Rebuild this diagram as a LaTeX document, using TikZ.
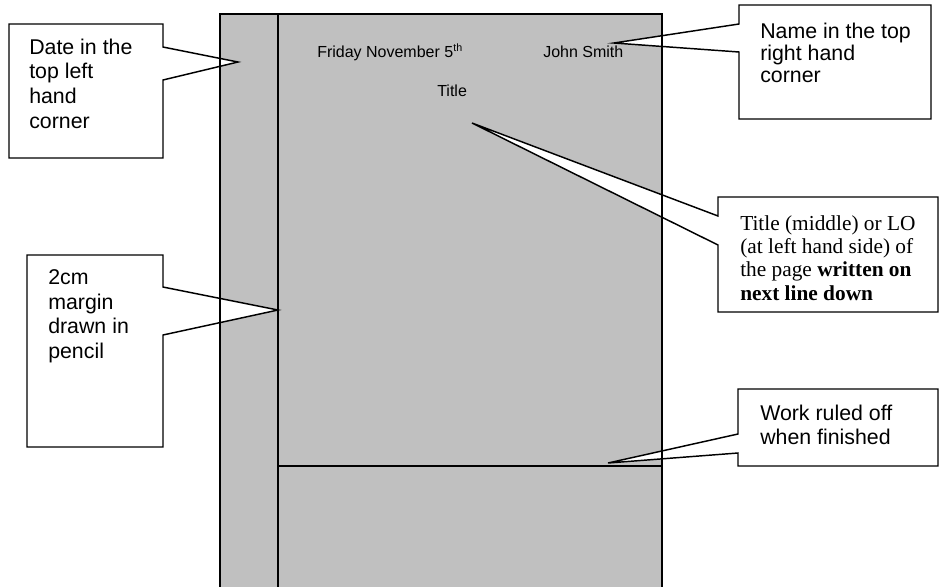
\documentclass[tikz,border=0pt]{standalone}
\usepackage{fontspec}
\setmainfont{Liberation Serif}
\newfontfamily\arialfont{Liberation Sans}
\definecolor{pagegray}{RGB}{192,192,192}
\begin{document}
\begin{tikzpicture}[x=0.75pt,y=-0.75pt,
  pageline/.style={line width=1.1pt, line cap=rect},
  callout/.style={draw=black, fill=white, line width=1.1pt, line join=miter},
  sanslbl/.style={font=\arialfont\fontsize{16}{18.4}\selectfont, align=left, anchor=base west, inner sep=0pt},
  seriflbl/.style={font=\fontsize{16}{17.5}\selectfont, align=left, anchor=base west, inner sep=0pt},
  pagelbl/.style={font=\arialfont\fontsize{12}{14}\selectfont, anchor=base west, inner sep=0pt}]
\useasboundingbox (0,0) rectangle (939,586);

% page
\coordinate (pageNW) at (220,14);
\coordinate (pageNE) at (662,14);
\coordinate (pageSW) at (220,600);
\coordinate (pageSE) at (662,600);
\coordinate (marginTop) at (278,14);
\coordinate (marginBot) at (278,600);
\coordinate (ruleL) at (278,466);
\coordinate (ruleR) at (662,466);
\fill[pagegray] (pageNW) rectangle (pageSE);

% callout tips
\coordinate (dateTip) at (238,62);
\coordinate (nameTip) at (614,43);
\coordinate (titleTip) at (472,123);
\coordinate (marginTip) at (278,310);
\coordinate (workTip) at (608,463);

% callouts
\draw[callout] (9,24) -- (163,24) -- (163,47) -- (dateTip) -- (163,80) -- (163,158) -- (9,158) -- cycle;
\draw[callout] (739,5) -- (931,5) -- (931,119) -- (739,119) -- (739,52) -- (nameTip) -- (739,24) -- cycle;
\draw[callout] (718,197) -- (938,197) -- (938,312) -- (718,312) -- (718,245) -- (titleTip) -- (718,216) -- cycle;
\draw[callout] (27,255) -- (163,255) -- (163,287) -- (marginTip) -- (163,335) -- (163,447) -- (27,447) -- cycle;
\draw[callout] (738,389) -- (938,389) -- (938,466) -- (738,466) -- (738,453) -- (workTip) -- (738,434) -- cycle;

% page lines
\draw[pageline] (pageSW) -- (pageNW) -- (pageNE) -- (pageSE);
\draw[pageline] (marginTop) -- (marginBot);
\draw[pageline] (ruleL) -- (ruleR);

% page texts
\node[pagelbl] (dateLine) at (317,57) {Friday November 5\textsuperscript{th}};
\node[pagelbl] (nameLine) at (543,57) {John Smith};
\node[pagelbl] (titleLine) at (437,96) {Title};

% callout texts (base anchor = baseline of the last line)
\node[sanslbl] (dateText) at (29,128) {Date in the\\top left\\hand\\corner};
\node[sanslbl, font=\arialfont\fontsize{16}{16.5}\selectfont] (nameText) at (760,82) {Name in the top\\right hand\\corner};
\node[seriflbl] (titleText) at (740,300) {Title (middle) or LO\\(at left hand side) of\\the page \textbf{written on}\\\textbf{next line down}};
\node[sanslbl, font=\arialfont\fontsize{16}{18.3}\selectfont] (marginText) at (48,358) {2cm\\margin\\drawn in\\pencil};
\node[sanslbl, font=\arialfont\fontsize{16}{18}\selectfont] (workText) at (760,444) {Work ruled off\\when finished};
\end{tikzpicture}
\end{document}
